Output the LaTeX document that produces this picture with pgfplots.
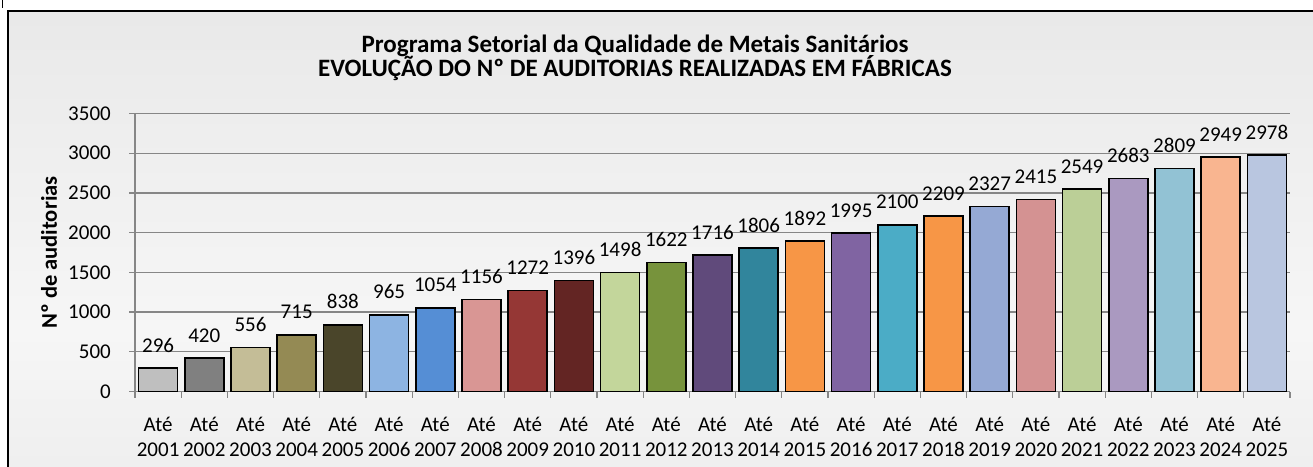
\documentclass[border=0pt]{standalone}
\usepackage{fontspec}
\setmainfont{Carlito}
\usepackage{pgfplots}
\pgfplotsset{compat=1.18}
\definecolor{axisgray}{HTML}{868686}
\definecolor{ca}{HTML}{BFBFBF}
\definecolor{cb}{HTML}{808080}
\definecolor{cc}{HTML}{C4BD97}
\definecolor{cd}{HTML}{948A54}
\definecolor{ce}{HTML}{4A452A}
\definecolor{cf}{HTML}{8DB4E2}
\definecolor{cg}{HTML}{558ED5}
\definecolor{ch}{HTML}{D99694}
\definecolor{ci}{HTML}{953735}
\definecolor{cj}{HTML}{632523}
\definecolor{ck}{HTML}{C3D69B}
\definecolor{cl}{HTML}{77933C}
\definecolor{cm}{HTML}{604A7B}
\definecolor{cn}{HTML}{31859C}
\definecolor{co}{HTML}{F79646}
\definecolor{cp}{HTML}{8064A2}
\definecolor{cq}{HTML}{4BACC6}
\definecolor{cr}{HTML}{F79646}
\definecolor{cs}{HTML}{95A9D4}
\definecolor{ct}{HTML}{D49292}
\definecolor{cu}{HTML}{BBCF97}
\definecolor{cv}{HTML}{AA99C0}
\definecolor{cw}{HTML}{92C2D4}
\definecolor{cx}{HTML}{F9B590}
\definecolor{cy}{HTML}{B9C6E0}
\definecolor{bgout}{HTML}{BEBEBE}
\definecolor{bgin}{HTML}{F6F6F6}
\pgfdeclareverticalshading{bgshade}{100bp}{color(0bp)=(bgout); color(25bp)=(bgout); color(46.8bp)=(bgin); color(75bp)=(bgout); color(100bp)=(bgout)}
\begin{document}
\begin{tikzpicture}
\useasboundingbox (0,0) rectangle (1313pt,466pt);
\begin{scope}
\clip (8pt,-10pt) rectangle (1330pt,455pt);
\fill[bgout] (8pt,-10pt) rectangle (1330pt,455pt);
\begin{scope}[shift={(780pt,233pt)}, rotate=45]
\shade[shading=bgshade] (-1100pt,-542pt) rectangle (1100pt,703pt);
\end{scope}
\end{scope}
\draw[line width=1.7pt] (8pt,-10pt) rectangle (1330pt,455pt);
\draw[line width=1pt] (2pt,466pt) -- (2pt,458pt);
\node[anchor=base, font=\fontsize{25}{28}\selectfont\bfseries] at (635pt,413pt) {Programa Setorial da Qualidade de Metais Sanitários};
\node[anchor=base, font=\fontsize{25}{28}\selectfont\bfseries] at (635pt,389pt) {EVOLUÇÃO DO Nº DE AUDITORIAS REALIZADAS EM FÁBRICAS};
\begin{axis}[
  at={(135pt,74.5pt)}, anchor=south west,
  scale only axis, width=1155pt, height=278pt,
  xmin=-0.5, xmax=24.5, ymin=0, ymax=3500,
  enlargelimits=false,
  axis x line*=bottom, axis y line*=left,
  axis line style={-, draw=axisgray, line width=1.2pt},
  ytick={0,500,...,3500},
  ymajorgrids, grid style={draw=axisgray, line width=1.2pt},
  xtick={0,...,24},
  xticklabels={{Até\\2001},{Até\\2002},{Até\\2003},{Até\\2004},{Até\\2005},{Até\\2006},{Até\\2007},{Até\\2008},{Até\\2009},{Até\\2010},{Até\\2011},{Até\\2012},{Até\\2013},{Até\\2014},{Até\\2015},{Até\\2016},{Até\\2017},{Até\\2018},{Até\\2019},{Até\\2020},{Até\\2021},{Até\\2022},{Até\\2023},{Até\\2024},{Até\\2025}},
  minor xtick={-0.5,0.5,...,24.5},
  tick align=outside,
  major tick length=6pt, minor tick length=6pt,
  major x tick style={draw=none},
  minor x tick style={draw=axisgray, line width=1.2pt},
  major y tick style={draw=axisgray, line width=1.2pt},
  /pgf/number format/assume math mode=true,
  /pgf/number format/1000 sep={},
  xticklabel style={align=center, font=\fontsize{21}{25}\selectfont, inner sep=0pt, anchor=north, yshift=-19pt},
  yticklabel style={font=\fontsize{21}{25}\selectfont, inner sep=0pt, anchor=east, xshift=-18pt},
  ylabel={Nº de auditorias},
  every axis y label/.style={at={(axis description cs:-0.0745,0.5)}, rotate=90, anchor=center, font=\fontsize{22.5}{24}\selectfont\bfseries},
  ybar, bar width=39pt,
  nodes near coords,
  every node near coord/.append style={font=\fontsize{21}{25}\selectfont, anchor=south, inner sep=0pt, yshift=15pt, text=black},
  mybar/.style={fill=#1, draw=black, line width=1.6pt, bar shift=0pt},
]
\addplot[mybar=ca] coordinates {(0,296)};
\addplot[mybar=cb] coordinates {(1,420)};
\addplot[mybar=cc] coordinates {(2,556)};
\addplot[mybar=cd] coordinates {(3,715)};
\addplot[mybar=ce] coordinates {(4,838)};
\addplot[mybar=cf] coordinates {(5,965)};
\addplot[mybar=cg] coordinates {(6,1054)};
\addplot[mybar=ch] coordinates {(7,1156)};
\addplot[mybar=ci] coordinates {(8,1272)};
\addplot[mybar=cj] coordinates {(9,1396)};
\addplot[mybar=ck] coordinates {(10,1498)};
\addplot[mybar=cl] coordinates {(11,1622)};
\addplot[mybar=cm] coordinates {(12,1716)};
\addplot[mybar=cn] coordinates {(13,1806)};
\addplot[mybar=co] coordinates {(14,1892)};
\addplot[mybar=cp] coordinates {(15,1995)};
\addplot[mybar=cq] coordinates {(16,2100)};
\addplot[mybar=cr] coordinates {(17,2209)};
\addplot[mybar=cs] coordinates {(18,2327)};
\addplot[mybar=ct] coordinates {(19,2415)};
\addplot[mybar=cu] coordinates {(20,2549)};
\addplot[mybar=cv] coordinates {(21,2683)};
\addplot[mybar=cw] coordinates {(22,2809)};
\addplot[mybar=cx] coordinates {(23,2949)};
\addplot[mybar=cy] coordinates {(24,2978)};
\end{axis}
\end{tikzpicture}
\end{document}
